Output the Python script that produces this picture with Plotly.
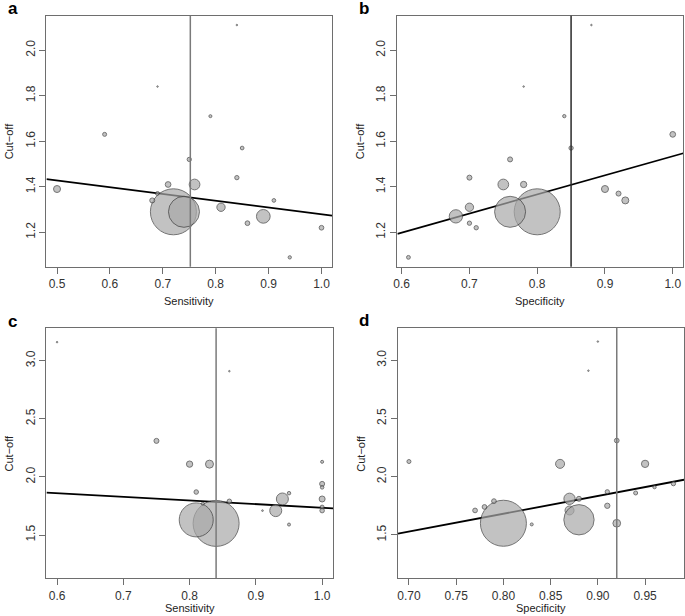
import plotly.graph_objects as go

W, H = 685, 616

# ---------------- data ----------------
# panel a: sensitivity vs cut-off
a_x = [0.69, 0.72, 0.74, 0.50, 0.59, 0.69, 0.68, 0.71, 0.75, 0.76, 0.79, 0.81, 0.84, 0.84, 0.85, 0.86, 0.89, 0.91, 0.94, 1.00]
a_y = [1.37, 1.29, 1.29, 1.39, 1.63, 1.84, 1.34, 1.41, 1.52, 1.41, 1.71, 1.31, 2.11, 1.44, 1.57, 1.24, 1.27, 1.34, 1.09, 1.22]
a_w = [5.0, 47, 32, 8.0, 5.0, 2.3, 6.0, 6.7, 5.3, 11.7, 4.0, 9.3, 2.3, 5.3, 4.7, 5.7, 14.7, 4.7, 4.3, 5.7]

# panel b: specificity vs cut-off
b_x = [0.80, 0.76, 0.61, 0.71, 0.70, 0.68, 0.70, 0.93, 0.92, 0.90, 0.75, 0.78, 0.70, 0.76, 0.85, 1.00, 0.84, 0.78, 0.88]
b_y = [1.29, 1.29, 1.09, 1.22, 1.24, 1.27, 1.31, 1.34, 1.37, 1.39, 1.41, 1.41, 1.44, 1.52, 1.57, 1.63, 1.71, 1.84, 2.11]
b_w = [47, 32, 4.8, 5.3, 5.3, 14.3, 9.3, 8.0, 6.0, 8.0, 11.7, 7.3, 6.0, 6.0, 5.3, 6.7, 4.3, 2.5, 2.5]

# panel c: sensitivity vs cut-off
c_x = [0.84, 0.81, 0.60, 0.86, 0.75, 0.80, 0.83, 0.81, 0.86, 0.82, 0.91, 0.93, 0.94, 0.95, 0.95, 1.00, 1.00, 1.00, 1.00, 1.00, 1.00]
c_y = [1.60, 1.63, 3.16, 2.91, 2.31, 2.11, 2.11, 1.87, 1.79, 1.77, 1.71, 1.71, 1.81, 1.86, 1.59, 2.13, 1.94, 1.91, 1.81, 1.74, 1.71]
c_w = [47, 35, 2.3, 2.3, 6.0, 7.3, 9.0, 5.5, 5.5, 4.0, 2.7, 13, 13, 4.5, 4.0, 4.0, 6.0, 4.5, 7.0, 5.0, 5.5]

# panel d: specificity vs cut-off
d_x = [0.87, 0.80, 0.88, 0.70, 0.89, 0.90, 0.92, 0.86, 0.95, 0.77, 0.78, 0.79, 0.83, 0.87, 0.88, 0.91, 0.91, 0.92, 0.94, 0.96, 0.98]
d_y = [1.71, 1.60, 1.63, 2.13, 2.91, 3.16, 2.31, 2.11, 2.11, 1.71, 1.74, 1.79, 1.59, 1.81, 1.81, 1.87, 1.75, 1.60, 1.86, 1.91, 1.94]
d_w = [10, 47, 31.3, 5.0, 2.3, 2.3, 5.7, 10, 8.3, 5.7, 5.7, 5.7, 4.0, 12.3, 6.0, 5.3, 6.3, 8.7, 5.0, 4.3, 5.3]

# regression lines (intercept, slope) and vertical reference values
reg_intercept = [1.576, 0.695, 2.045, 0.460]
reg_slope = [-0.297, 0.839, -0.31, 1.527]
vline_x = [0.752, 0.85, 0.84, 0.92]

# axis ticks
ax_ticks = [0.5, 0.6, 0.7, 0.8, 0.9, 1.0]
bx_ticks = [0.6, 0.7, 0.8, 0.9, 1.0]
cx_ticks = [0.6, 0.7, 0.8, 0.9, 1.0]
dx_ticks = [0.70, 0.75, 0.80, 0.85, 0.90, 0.95]
ab_yticks = [1.2, 1.4, 1.6, 1.8, 2.0]
cd_yticks = [1.5, 2.0, 2.5, 3.0]

panel_letters = ["a", "b", "c", "d"]
x_titles = ["Sensitivity", "Specificity", "Sensitivity", "Specificity"]
y_title = "Cut−off"

# ---------------- layout geometry (pixels) ----------------
panels = [
    dict(x=a_x, y=a_y, w=a_w, xr=[0.48, 1.02], yr=[1.049, 2.151], xt=ax_ticks, yt=ab_yticks, xf=".1f",
         px=(42.7, 330.0), py=(15.7, 266.7), vcol="#7a7a7a", ty=300.5),
    dict(x=b_x, y=b_y, w=b_w, xr=[0.5937, 1.0156], yr=[1.049, 2.151], xt=bx_ticks, yt=ab_yticks, xf=".1f",
         px=(395.7, 683.3), py=(15.7, 266.7), vcol="#2a2a2a", ty=300.5),
    dict(x=c_x, y=c_y, w=c_w, xr=[0.584, 1.0165], yr=[1.1274, 3.279], xt=cx_ticks, yt=cd_yticks, xf=".1f",
         px=(42.7, 331.0), py=(328.3, 578.3), vcol="#7a7a7a", ty=607.5),
    dict(x=d_x, y=d_y, w=d_w, xr=[0.6884, 0.9912], yr=[1.1274, 3.279], xt=dx_ticks, yt=cd_yticks, xf=".2f",
         px=(396.3, 684.0), py=(327.7, 578.3), vcol="#7a7a7a", ty=607.5),
]

fig = go.Figure()
frame_col = "#6e6e6e"
font_fam = "Liberation Sans, Arial, sans-serif"

for i, p in enumerate(panels):
    n = i + 1
    xa = "x" if n == 1 else f"x{n}"
    ya = "y" if n == 1 else f"y{n}"
    # regression line across the whole x range
    x0, x1 = p["xr"]
    fig.add_trace(go.Scatter(
        x=[x0, x1], y=[reg_intercept[i] + reg_slope[i] * x0, reg_intercept[i] + reg_slope[i] * x1],
        mode="lines", line=dict(color="black", width=1.8), xaxis=xa, yaxis=ya,
        showlegend=False, hoverinfo="skip"))
    # bubbles
    fig.add_trace(go.Scatter(
        x=p["x"], y=p["y"], mode="markers",
        marker=dict(size=[max(s - 1, 1.5) for s in p["w"]], color="#a9a9a9",
                    line=dict(color="#3a3a3a", width=1)),
        xaxis=xa, yaxis=ya, showlegend=False, cliponaxis=True))
    # vertical reference line
    fig.add_shape(type="line", xref=xa, yref=f"{ya} domain", x0=vline_x[i], x1=vline_x[i], y0=0, y1=1,
                  line=dict(color=p["vcol"], width=1.5), layer="above")

    dom_x = [p["px"][0] / W, p["px"][1] / W]
    dom_y = [1 - p["py"][1] / H, 1 - p["py"][0] / H]
    axcommon = dict(showline=True, mirror=True, linecolor=frame_col, linewidth=1.3,
                    ticks="outside", ticklen=6, tickcolor=frame_col, tickwidth=1,
                    showgrid=False, zeroline=False,
                    tickfont=dict(family=font_fam, size=12, color="#333333"))
    fig.update_layout(**{
        ("xaxis" if n == 1 else f"xaxis{n}"): dict(domain=dom_x, range=p["xr"], anchor=ya,
                                                    tickvals=p["xt"], tickformat=p["xf"], **axcommon),
        ("yaxis" if n == 1 else f"yaxis{n}"): dict(domain=dom_y, range=p["yr"], anchor=xa,
                                                    tickvals=p["yt"], tickformat=".1f", tickangle=-90,
                                                    **axcommon),
    })

    cx = (p["px"][0] + p["px"][1]) / 2
    cy = (p["py"][0] + p["py"][1]) / 2
    # x-axis title
    fig.add_annotation(text=x_titles[i], xref="paper", yref="paper", x=cx / W, y=1 - p["ty"] / H,
                       showarrow=False, xanchor="center", yanchor="middle",
                       font=dict(family=font_fam, size=11, color="#222222"))
    # y-axis title
    fig.add_annotation(text=y_title, xref="paper", yref="paper", x=(p["px"][0] - 37.5) / W, y=1 - cy / H,
                       showarrow=False, textangle=-90, xanchor="center", yanchor="middle",
                       font=dict(family=font_fam, size=11, color="#222222"))
    # panel letter
    fig.add_annotation(text=f"<b>{panel_letters[i]}</b>", xref="paper", yref="paper",
                       x=(p["px"][0] - 34) / W, y=1 - (p["py"][0] - 7) / H,
                       showarrow=False, xanchor="center", yanchor="middle",
                       font=dict(family=font_fam, size=17, color="black"))

fig.update_layout(width=W, height=H, margin=dict(l=0, r=0, t=0, b=0),
                  paper_bgcolor="white", plot_bgcolor="white",
                  font=dict(family=font_fam))

fig.write_html("out.html", config={"displayModeBar": False},
               post_script="document.body.style.margin='0px';document.body.style.overflow='hidden';")
